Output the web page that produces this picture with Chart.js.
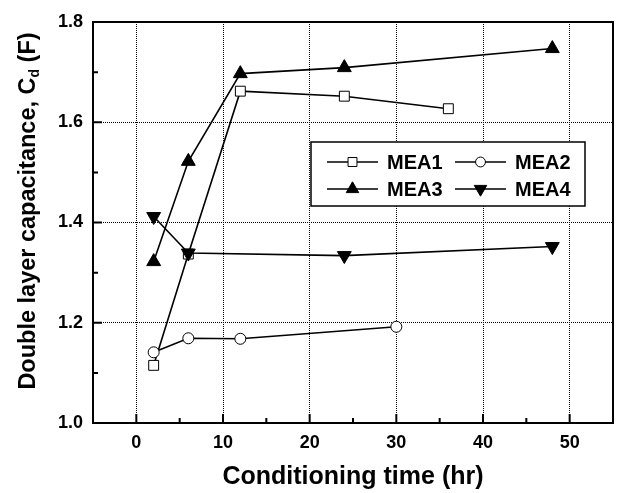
<!DOCTYPE html>
<html>
<head>
<meta charset="utf-8">
<script src="https://cdn.jsdelivr.net/npm/chart.js@4/dist/chart.umd.min.js"></script>
<style>
html, body { margin: 0; padding: 0; background: #fff; }
#wrap { width: 622px; height: 493px; }
</style>
</head>
<body>
<div id="wrap"><canvas id="myChart"></canvas></div>
<script>
// data
const seriesNames = ['MEA1', 'MEA2', 'MEA3', 'MEA4'];
const mea1Time = [2, 6, 12, 24, 36];
const mea1Cd = [1.115, 1.337, 1.662, 1.652, 1.627];
const mea2Time = [2, 6, 12, 30];
const mea2Cd = [1.141, 1.169, 1.168, 1.192];
const mea3Time = [2, 6, 12, 24, 48];
const mea3Cd = [1.322, 1.522, 1.697, 1.709, 1.747];
const mea4Time = [2, 6, 24, 48];
const mea4Cd = [1.412, 1.339, 1.334, 1.352];
const xTicks = [0, 10, 20, 30, 40, 50];
const xMinor = [5, 15, 25, 35, 45];
const yTicks = [1.0, 1.2, 1.4, 1.6, 1.8];
const yMinor = [1.1, 1.3, 1.5, 1.7];

const FONT = '"Liberation Sans", Arial, sans-serif';

function pts(xs, ys) {
    return xs.map((x, i) => ({ x: x, y: ys[i] }));
}

const styles = [
    { pointStyle: 'rect', radius: 7, fill: '#fff', rotation: 0 },
    { pointStyle: 'circle', radius: 5.5, fill: '#fff', rotation: 0 },
    { pointStyle: 'triangle', radius: 8, fill: '#000', rotation: 0 },
    { pointStyle: 'triangle', radius: 8, fill: '#000', rotation: 180 }
];
const allData = [pts(mea1Time, mea1Cd), pts(mea2Time, mea2Cd), pts(mea3Time, mea3Cd), pts(mea4Time, mea4Cd)];

const datasets = seriesNames.map((name, i) => ({
    label: name,
    data: allData[i],
    showLine: true,
    borderColor: '#000',
    borderWidth: 1.6,
    pointStyle: styles[i].pointStyle,
    pointRadius: styles[i].radius,
    pointRotation: styles[i].rotation,
    pointBackgroundColor: styles[i].fill,
    pointBorderColor: '#000',
    pointBorderWidth: 1,
    order: 3 - i
}));

const framePlugin = {
    id: 'frame',
    afterDraw(chart) {
        const ctx = chart.ctx;
        const a = chart.chartArea;
        const xs = chart.scales.x, ys = chart.scales.y;
        ctx.save();
        ctx.strokeStyle = '#000';
        ctx.lineWidth = 2;
        ctx.strokeRect(a.left, a.top, a.right - a.left, a.bottom - a.top);
        // inward tick marks
        ctx.beginPath();
        xTicks.forEach(v => { const p = xs.getPixelForValue(v); ctx.moveTo(p, a.bottom); ctx.lineTo(p, a.bottom - 9); });
        xMinor.forEach(v => { const p = xs.getPixelForValue(v); ctx.moveTo(p, a.bottom); ctx.lineTo(p, a.bottom - 5); });
        yTicks.forEach(v => { const p = ys.getPixelForValue(v); ctx.moveTo(a.left, p); ctx.lineTo(a.left + 9, p); });
        yMinor.forEach(v => { const p = ys.getPixelForValue(v); ctx.moveTo(a.left, p); ctx.lineTo(a.left + 5, p); });
        ctx.stroke();

        // y axis title with subscript
        ctx.fillStyle = '#000';
        ctx.translate(29, 211);
        ctx.rotate(-Math.PI / 2);
        ctx.textBaseline = 'middle';
        const big = 'bold 23.5px ' + FONT, small = 'bold 14px ' + FONT;
        const p1 = 'Double layer capacitance, C', p2 = 'd', p3 = ' (F)';
        ctx.font = big; const w1 = ctx.measureText(p1).width, w3 = ctx.measureText(p3).width;
        ctx.font = small; const w2 = ctx.measureText(p2).width;
        let x0 = -(w1 + w2 + w3) / 2;
        ctx.font = big; ctx.textAlign = 'left';
        ctx.fillText(p1, x0, 0);
        ctx.font = small; ctx.fillText(p2, x0 + w1, 6);
        ctx.font = big; ctx.fillText(p3, x0 + w1 + w2, 0);
        ctx.restore();

        // legend box
        ctx.save();
        ctx.fillStyle = '#fff';
        ctx.fillRect(311, 142, 274, 64);
        ctx.strokeStyle = '#000';
        ctx.lineWidth = 1.5;
        ctx.strokeRect(311, 142, 274, 64);
        const cols = [327, 455];
        const rows = [162, 189];
        ctx.font = 'bold 20px ' + FONT;
        ctx.textBaseline = 'middle';
        ctx.textAlign = 'left';
        seriesNames.forEach((name, i) => {
            const cx = cols[i % 2], cy = rows[Math.floor(i / 2)];
            ctx.strokeStyle = '#000';
            ctx.lineWidth = 1.6;
            ctx.beginPath(); ctx.moveTo(cx, cy); ctx.lineTo(cx + 51, cy); ctx.stroke();
            ctx.fillStyle = styles[i].fill;
            ctx.lineWidth = 1;
            Chart.helpers.drawPoint(ctx, { pointStyle: styles[i].pointStyle, radius: styles[i].radius * 0.9, rotation: styles[i].rotation, borderWidth: 1 }, cx + 25.5, cy);
            ctx.fillStyle = '#000';
            ctx.fillText(name, cx + 60, cy + 1);
        });
        ctx.restore();
    }
};

const ctx = document.getElementById('myChart').getContext('2d');
const myChart = new Chart(ctx, {
    type: 'scatter',
    data: { datasets: datasets },
    plugins: [framePlugin],
    options: {
        responsive: true,
        maintainAspectRatio: false,
        animation: false,
        layout: { padding: { left: 0, top: 22, right: 2, bottom: 0 } },
        plugins: {
            legend: { display: false },
            tooltip: { enabled: false }
        },
        scales: {
            x: {
                type: 'linear',
                min: -5,
                max: 55,
                afterBuildTicks: s => { s.ticks = xTicks.map(v => ({ value: v })); },
                afterFit: s => { s.height = 70; },
                grid: { color: '#000', lineWidth: 1, drawTicks: false },
                border: { display: false, dash: [1, 1] },
                ticks: { color: '#000', padding: 9, font: { family: FONT, size: 18, weight: 'bold' } },
                title: {
                    display: true,
                    text: 'Conditioning time (hr)',
                    color: '#000',
                    padding: { top: 0, bottom: 1 },
                    font: { family: FONT, size: 25, weight: 'bold' }
                }
            },
            y: {
                type: 'linear',
                min: 1.0,
                max: 1.8,
                afterBuildTicks: s => { s.ticks = yTicks.map(v => ({ value: v })); },
                afterFit: s => { s.width = 93; },
                grid: { color: '#000', lineWidth: 1, drawTicks: false },
                border: { display: false, dash: [1, 1] },
                ticks: {
                    color: '#000',
                    padding: 10,
                    font: { family: FONT, size: 18, weight: 'bold' },
                    callback: v => v.toFixed(1)
                }
            }
        }
    }
});
</script>
</body>
</html>
